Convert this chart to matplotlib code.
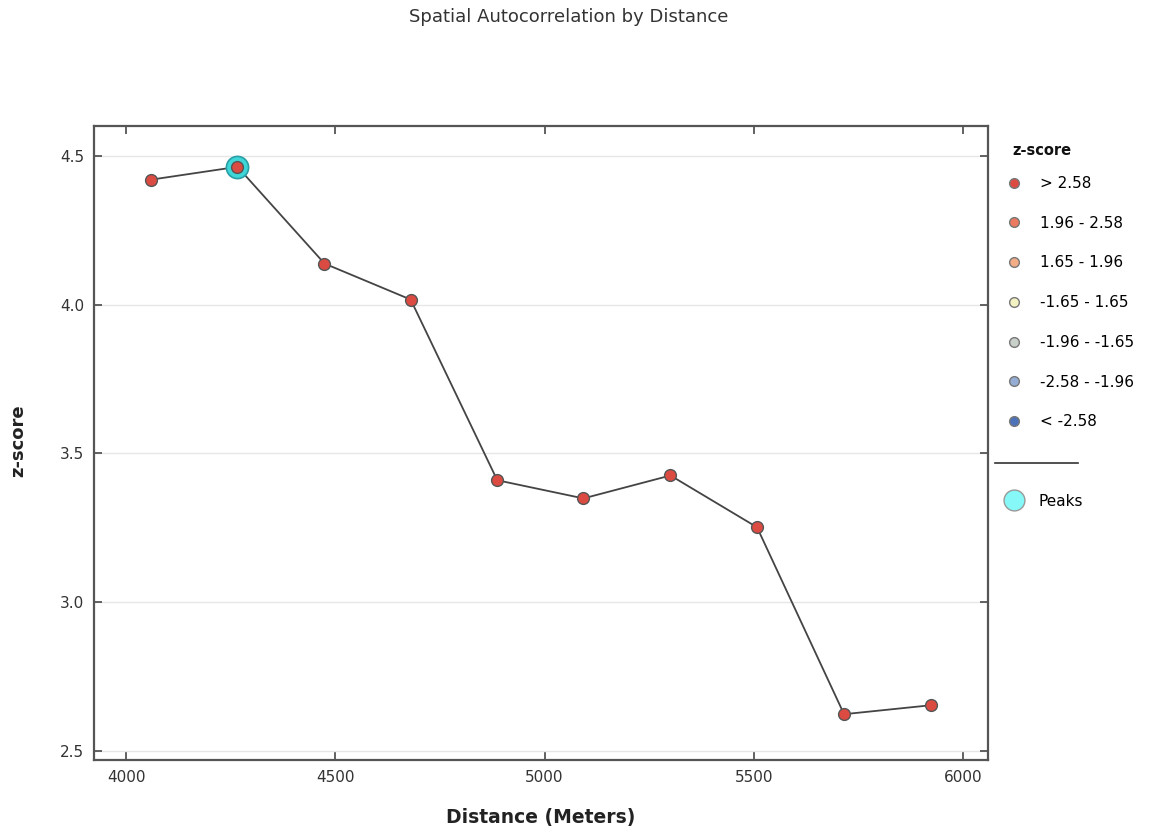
import matplotlib
matplotlib.use("Agg")
import matplotlib.pyplot as plt
from matplotlib.lines import Line2D

distance = [4060, 4266, 4474, 4680, 4887, 5093, 5301, 5508, 5716, 5923]
zscore = [4.420, 4.463, 4.138, 4.017, 3.410, 3.349, 3.426, 3.252, 2.624, 2.654]
peak_x = [4266]
peak_y = [4.463]

legend_labels = ["> 2.58", "1.96 - 2.58", "1.65 - 1.96", "-1.65 - 1.65",
                 "-1.96 - -1.65", "-2.58 - -1.96", "< -2.58"]
legend_colors = ["#dc4b42", "#ea7a60", "#f2ad86", "#f2f2c2", "#c9d0c9", "#95acd4", "#4c72ba"]

xticks = [4000, 4500, 5000, 5500, 6000]
yticks = [2.5, 3.0, 3.5, 4.0, 4.5]

fig = plt.figure(figsize=(11.52, 8.32), dpi=100)
ax = fig.add_axes([0.0816, 0.0865, 0.776, 0.762])

ax.set_xlim(3923, 6060)
ax.set_ylim(2.47, 4.60)
ax.set_xticks(xticks)
ax.set_yticks(yticks)
ax.set_yticklabels([f"{v:.1f}" for v in yticks])
ax.grid(axis="y", color="#e6e6e6", linewidth=1.0)
ax.set_axisbelow(True)

for s in ax.spines.values():
    s.set_color("#555555")
    s.set_linewidth(1.6)
ax.tick_params(direction="in", length=6, width=1.3, color="#555555",
               top=True, right=True, labelsize=11, labelcolor="#333333", pad=7)

ax.plot(distance, zscore, color="#444444", linewidth=1.3, zorder=2)
ax.plot(peak_x, peak_y, linestyle="none", marker="o", markersize=16,
        markerfacecolor="#3fd6d8", markeredgecolor="#2a9fa6", markeredgewidth=1.2, zorder=3)
ax.plot(distance, zscore, linestyle="none", marker="o", markersize=8.5,
        markerfacecolor=legend_colors[0], markeredgecolor="#555555", markeredgewidth=1.0, zorder=4)

fig.text(0.494, 0.979, "Spatial Autocorrelation by Distance", ha="center", va="center",
         fontsize=13, color="#333333")
fig.text(0.469, 0.018, "Distance (Meters)", ha="center", va="center",
         fontsize=13.5, fontweight="bold", color="#222222")
fig.text(0.016, 0.47, "z-score", ha="center", va="center", rotation=90,
         fontsize=13, fontweight="bold", color="#222222")

fig.text(0.879, 0.8197, "z-score", ha="left", va="center",
         fontsize=10.5, fontweight="bold", color="#111111")
handles = [Line2D([], [], linestyle="none", marker="o", markersize=7,
                  markerfacecolor=c, markeredgecolor="#777777", markeredgewidth=1.0)
           for c in legend_colors]
leg = fig.legend(handles, legend_labels, loc="upper left",
                 bbox_to_anchor=(0.860, 0.805), frameon=False, fontsize=11,
                 labelspacing=1.62, handlelength=1.2, handletextpad=1.1)

fig.add_artist(Line2D([0.864, 0.936], [0.443, 0.443], transform=fig.transFigure,
                      color="#333333", linewidth=1.2))
peak_handle = [Line2D([], [], linestyle="none", marker="o", markersize=15,
                      markerfacecolor="#86f8f8", markeredgecolor="#999999", markeredgewidth=1.0)]
fig.legend(peak_handle, ["Peaks"], loc="upper left", bbox_to_anchor=(0.860, 0.423),
           frameon=False, fontsize=11, handlelength=1.2, handletextpad=1.0)

fig.savefig("out.png", dpi=100, facecolor="white")
